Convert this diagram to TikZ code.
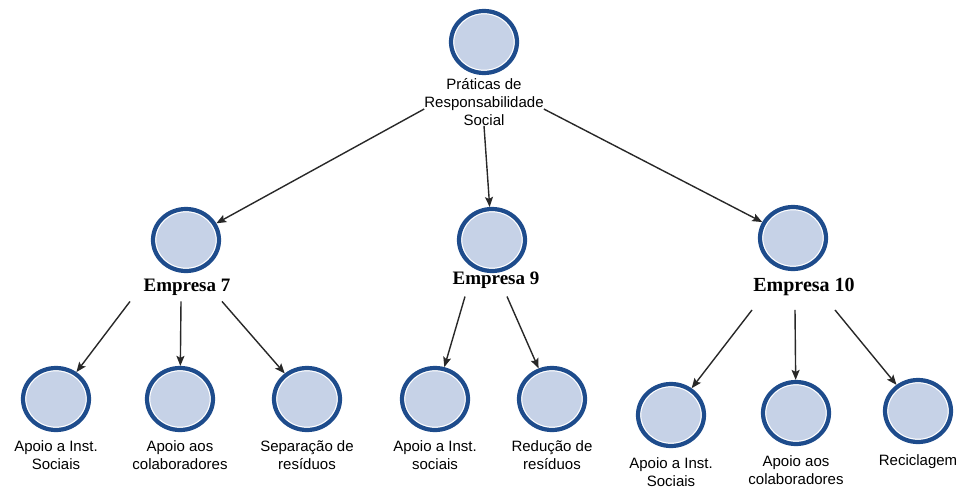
\documentclass[tikz,border=0pt]{standalone}
\usepackage{fontspec}
\setmainfont{Liberation Sans}
\newfontfamily\empfont{Liberation Serif}
\usetikzlibrary{arrows.meta,shapes.geometric}
\definecolor{ringblue}{RGB}{30,76,140}
\definecolor{fillblue}{RGB}{198,210,231}
\definecolor{arrgray}{RGB}{40,40,40}
\begin{document}
\begin{tikzpicture}[x=1pt,y=-1pt,
  bubble/.style={ellipse, draw=ringblue, line width=4.2pt, fill=fillblue,
    minimum width=66pt, minimum height=62pt, inner sep=0pt,
    path picture={\draw[white, line width=1.2pt]
      (path picture bounding box.center) ellipse (30.3pt and 28.3pt);}},
  lbl/.style={align=center, inner sep=0pt,
    font=\fontsize{15}{18}\selectfont},
  emp/.style={inner sep=0pt, font=\fontsize{19}{21}\empfont\bfseries},
  arr/.style={draw=arrgray, line width=1.4pt,
    -{Stealth[length=10pt,width=8pt,inset=2pt]}}
]
\useasboundingbox (0,0) rectangle (966,493);

% root
\node[bubble] (root) at (484,42) {};
\node[lbl] (lroot) at (484,102) {Práticas de\\Responsabilidade\\Social};

% companies
\node[bubble] (e7) at (186,240) {};
\node[emp] (l7) at (187,287) {Empresa 7};
\node[bubble] (e9) at (492,240) {};
\node[emp] (l9) at (496,280) {Empresa 9};
\node[bubble] (e10) at (793,238) {};
\node[emp, font=\fontsize{20}{22}\empfont\bfseries] (l10) at (804,287) {Empresa 10};

% practices
\node[bubble] (b1) at (56,399) {};
\node[lbl] (lb1) at (56,455) {Apoio a Inst.\\Sociais};
\node[bubble] (b2) at (180,399) {};
\node[lbl] (lb2) at (180,455) {Apoio aos\\colaboradores};
\node[bubble] (b3) at (307,399) {};
\node[lbl] (lb3) at (307,455) {Separação de\\resíduos};
\node[bubble] (b4) at (435,399) {};
\node[lbl] (lb4) at (435,455) {Apoio a Inst.\\sociais};
\node[bubble] (b5) at (552,399) {};
\node[lbl] (lb5) at (552,455) {Redução de\\resíduos};
\node[bubble] (b6) at (671,415) {};
\node[lbl] (lb6) at (671,472) {Apoio a Inst.\\Sociais};
\node[bubble] (b7) at (796,413) {};
\node[lbl] (lb7) at (796,470) {Apoio aos\\colaboradores};
\node[bubble] (b8) at (918,411) {};
\node[lbl] (lb8) at (918,462) {Reciclagem};

% root to companies
\draw[arr] ([yshift=-7pt]lroot.west) -- (e7);
\draw[arr] (lroot.south) -- (e9);
\draw[arr] ([yshift=-7pt]lroot.east) -- (e10);

% Empresa 7
\draw[arr] ([xshift=-57pt,yshift=-6pt]l7.south) -- (b1);
\draw[arr] ([xshift=-6pt,yshift=-6pt]l7.south) -- (b2);
\draw[arr] ([xshift=35pt,yshift=-6pt]l7.south) -- (b3);

% Empresa 9
\draw[arr] ([xshift=-31pt,yshift=-8pt]l9.south) -- (b4);
\draw[arr] ([xshift=11pt,yshift=-8pt]l9.south) -- (b5);

% Empresa 10
\draw[arr] ([xshift=-52pt,yshift=-14pt]l10.south) -- (b6);
\draw[arr] ([xshift=-9pt,yshift=-14pt]l10.south) -- (b7);
\draw[arr] ([xshift=31pt,yshift=-14pt]l10.south) -- (b8);
\end{tikzpicture}
\end{document}
